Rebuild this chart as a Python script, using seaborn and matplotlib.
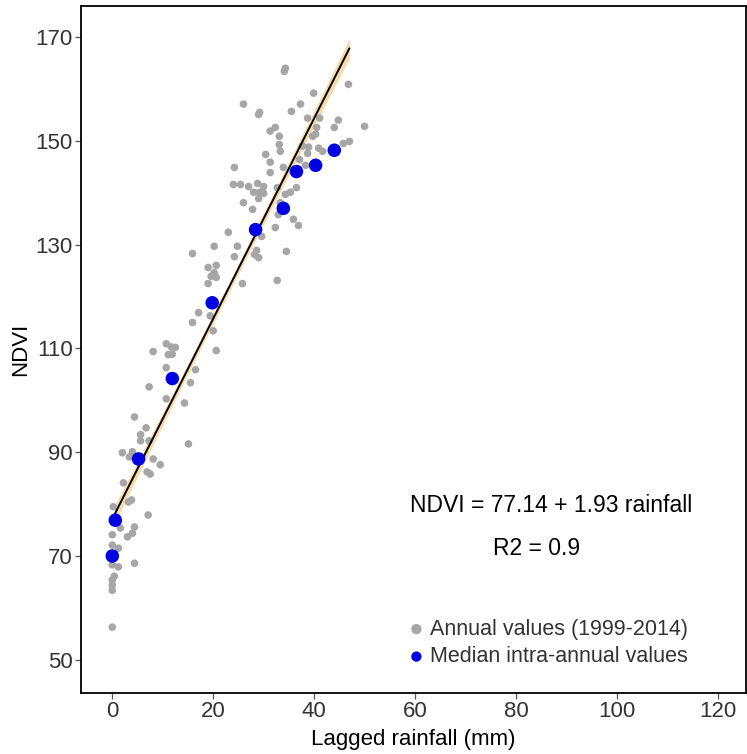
import numpy as np
import pandas as pd
import matplotlib
matplotlib.use("Agg")
import matplotlib.pyplot as plt
import seaborn as sns

# Monthly (annual series) values: lagged rainfall (mm) and NDVI
annual_rain = [
    0.0, 0.0, 0.0, 0.0, 0.4, 0.0, 1.2, 4.4, 0.0, 1.2,
    0.0, 3.0, 4.0, 1.6, 4.4, 0.6, 7.1, 0.2, 3.2, 3.8,
    2.2, 2.0, 3.4, 4.0, 8.1, 9.5, 6.9, 7.5, 15.1, 6.7,
    5.6, 5.6, 7.3, 4.4, 14.3, 10.7, 7.3, 15.5, 10.7, 16.5,
    8.1, 10.7, 11.7, 12.5, 11.1, 11.9, 20.6, 20.0, 15.9, 17.1,
    19.4, 19.0, 19.6, 20.6, 20.2, 19.0, 20.6, 25.8, 32.7, 24.2,
    28.2, 29.0, 28.6, 34.5, 15.9, 20.2, 24.8, 29.6, 23.0, 32.3,
    36.9, 35.9, 32.9, 27.8, 26.0, 33.3, 29.0, 28.0, 29.2, 30.0,
    24.0, 25.4, 27.0, 28.8, 30.0, 32.7, 34.3, 35.3, 36.5, 24.2,
    31.3, 33.9, 38.3, 31.3, 37.1, 38.7, 30.4, 33.3, 38.9, 40.9,
    41.7, 33.1, 33.1, 37.7, 45.8, 47.0, 39.7, 40.3, 31.3, 32.3,
    40.5, 44.0, 50.0, 44.8, 41.1, 38.7, 35.5, 29.2, 29.0, 26.0,
    37.3, 39.9, 46.8, 34.1, 34.3,
]
annual_ndvi = [
    56.3, 63.4, 64.4, 65.4, 66.1, 68.3, 67.9, 68.6, 72.1, 71.5,
    74.1, 73.7, 74.4, 75.4, 75.6, 77.5, 77.9, 79.5, 80.4, 80.8,
    84.1, 89.9, 89.1, 90.1, 88.7, 87.6, 86.2, 85.8, 91.6, 94.7,
    93.4, 92.2, 92.2, 96.8, 99.5, 100.3, 102.6, 103.4, 106.3, 105.9,
    109.4, 110.9, 110.3, 110.2, 108.8, 108.9, 109.6, 113.4, 115.0, 116.9,
    116.3, 122.5, 123.9, 123.7, 124.6, 125.6, 126.0, 122.5, 123.1, 127.7,
    128.1, 127.5, 128.9, 128.7, 128.3, 129.7, 129.7, 131.6, 132.4, 133.3,
    133.7, 134.9, 135.8, 136.8, 138.1, 138.1, 138.9, 140.1, 140.1, 139.9,
    141.6, 141.6, 141.2, 141.8, 141.2, 141.0, 139.7, 140.1, 141.0, 144.9,
    143.9, 144.9, 145.3, 145.9, 146.4, 147.6, 147.4, 148.0, 148.8, 148.6,
    148.0, 149.3, 150.9, 149.0, 149.5, 149.9, 150.9, 151.3, 151.9, 152.6,
    152.6, 152.6, 152.8, 154.0, 154.4, 154.4, 155.7, 155.5, 155.1, 157.1,
    157.1, 159.2, 160.9, 163.4, 164.0,
]

# Median intra-annual values
median_rain = [0.0, 0.6, 5.2, 11.9, 19.8, 28.4, 33.9, 36.5, 40.3, 44.0]
median_ndvi = [70.0, 76.9, 88.7, 104.2, 118.8, 132.9, 137.0, 144.1, 145.3, 148.2]

# Fitted linear model
intercept = 77.14
slope = 1.93
r_squared = 0.9

annual = pd.DataFrame({"rain": annual_rain, "ndvi": annual_ndvi})
median = pd.DataFrame({"rain": median_rain, "ndvi": median_ndvi})

sns.set_theme(style="white")
plt.rcParams["font.family"] = ["Liberation Sans", "DejaVu Sans"]

fig = plt.figure(figsize=(7.47, 7.54), dpi=100)
ax = fig.add_axes([81 / 747, 1 - 693 / 754, 665 / 747, 687 / 754])

# Fitted line with a standard-error band
x_fit = np.linspace(0.5, 47.0, 100)
y_fit = intercept + slope * x_fit
rain_arr = np.array(annual_rain)
resid = np.array(annual_ndvi) - (intercept + slope * rain_arr)
s = np.sqrt(np.sum(resid ** 2) / (len(resid) - 2))
xbar = rain_arr.mean()
sxx = np.sum((rain_arr - xbar) ** 2)
se = s * np.sqrt(1 / len(resid) + (x_fit - xbar) ** 2 / sxx)
ax.fill_between(x_fit, y_fit - se, y_fit + se,
                color="#F5D49A", alpha=0.85, linewidth=0, zorder=1)

sns.scatterplot(data=annual, x="rain", y="ndvi", color="#A6A6A6", s=30,
                edgecolor="none", label="Annual values (1999-2014)", ax=ax,
                zorder=2)
sns.lineplot(x=x_fit, y=y_fit, color="black", linewidth=1.4, ax=ax, zorder=3)
sns.scatterplot(data=median, x="rain", y="ndvi", color="#0000E0", s=95,
                edgecolor="none", label="Median intra-annual values", ax=ax,
                zorder=4)

ax.set_xlim(-6.2, 125.6)
ax.set_ylim(43.6, 176.0)
ax.set_xticks([0, 20, 40, 60, 80, 100, 120])
ax.set_yticks([50, 70, 90, 110, 130, 150, 170])
ax.tick_params(axis="both", which="major", labelsize=16, labelcolor="#333333",
               length=4, width=0.9, color="#555555", direction="out",
               bottom=True, left=True, pad=2)
ax.set_xlabel("Lagged rainfall (mm)", fontsize=16, color="black", labelpad=5)
ax.set_ylabel("NDVI", fontsize=16, color="black", labelpad=3)
for side in ["left", "bottom", "top", "right"]:
    ax.spines[side].set_visible(True)
    ax.spines[side].set_color("black")
    ax.spines[side].set_linewidth(1.3)

ax.text(87.0, 79.8, f"NDVI = {intercept:.2f} + {slope:.2f} rainfall",
        ha="center", va="center", fontsize=16.5, color="black")
ax.text(84.0, 71.5, f"R2 = {r_squared}", ha="center", va="center",
        fontsize=16.5, color="black")

leg = ax.legend(loc="lower left", bbox_to_anchor=(0.472, 0.025), frameon=False,
                fontsize=15.5, handletextpad=0.05, labelspacing=0.3,
                borderaxespad=0, handlelength=1.2)
for t in leg.get_texts():
    t.set_color("#333333")
for h in leg.legend_handles:
    h.set_sizes([55])

fig.savefig("out.png", dpi=100)
